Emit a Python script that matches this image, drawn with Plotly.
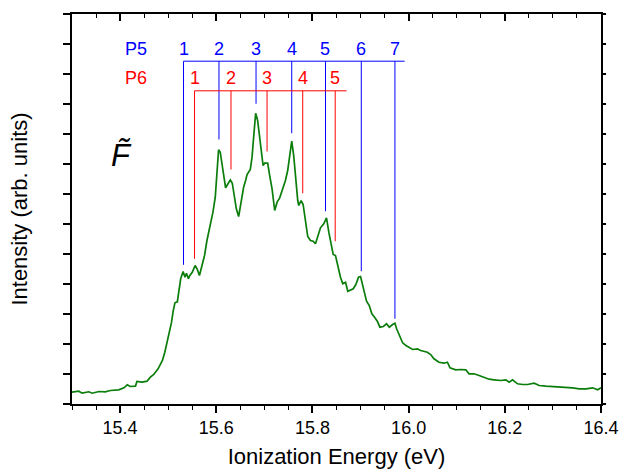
import plotly.graph_objects as go

# Spectrum (ionization energy in eV, intensity in arb. units)
energy = [15.300, 15.314, 15.321, 15.335, 15.342, 15.356, 15.369, 15.380, 15.397, 15.408,
          15.415, 15.421, 15.432, 15.435, 15.446, 15.456, 15.463, 15.470, 15.479, 15.488,
          15.493, 15.498, 15.503, 15.507, 15.510, 15.514, 15.519, 15.524, 15.526, 15.531,
          15.535, 15.538, 15.542, 15.545, 15.550, 15.556, 15.560, 15.565, 15.571, 15.5756,
          15.5806, 15.5875, 15.5931, 15.5979, 15.6015, 15.6048, 15.6083, 15.6119, 15.6152, 15.6194,
          15.6235, 15.6292, 15.6333, 15.6375, 15.6417, 15.6465, 15.6515, 15.6569, 15.6610, 15.6640,
          15.6708, 15.6744, 15.6777, 15.6819, 15.6860, 15.6902, 15.6938, 15.6973, 15.7006, 15.7069,
          15.7110, 15.7160, 15.7215, 15.7265, 15.7319, 15.7375, 15.7438, 15.7485, 15.7527, 15.7569,
          15.7610, 15.7652, 15.7694, 15.7715, 15.7765, 15.7806, 15.7854, 15.7902, 15.7958, 15.8015,
          15.8063, 15.8098, 15.8167, 15.8235, 15.8292, 15.8340, 15.8390, 15.8431, 15.8479, 15.8527,
          15.8583, 15.8631, 15.8688, 15.8735, 15.8792, 15.8848, 15.8902, 15.8958, 15.9000, 15.9042,
          15.9083, 15.9125, 15.9181, 15.9235, 15.9292, 15.9348, 15.9402, 15.9473, 15.9542, 15.9598,
          15.9667, 15.9715, 15.9750, 15.9806, 15.9875, 15.9944, 16.0015, 16.0083, 16.0181, 16.0250,
          16.0390, 16.0458, 16.0527, 16.0631, 16.0735, 16.0806, 16.0860, 16.0979, 16.1083, 16.1188,
          16.1256, 16.1360, 16.1465, 16.1569, 16.1673, 16.1777, 16.1917, 16.2021, 16.2090, 16.2160,
          16.2265, 16.2369, 16.2473, 16.2610, 16.2715, 16.2854, 16.2994, 16.3131, 16.3271, 16.3410,
          16.3548, 16.3688, 16.3827, 16.3931, 16.4000]
intensity = [0.393, 0.427, 0.360, 0.407, 0.360, 0.417, 0.407, 0.450, 0.473, 0.540,
             0.640, 0.583, 0.593, 0.750, 0.727, 0.760, 0.893, 0.983, 1.173, 1.450,
             1.727, 2.060, 2.393, 2.727, 3.060, 3.373, 3.407, 3.893, 4.173, 4.417,
             4.227, 4.360, 4.173, 4.283, 4.393, 4.617, 4.507, 4.283, 4.727, 4.950,
             5.450, 5.950, 6.393, 6.893, 7.673, 8.473, 8.393, 8.007, 7.560, 7.207,
             7.317, 7.473, 7.360, 6.893, 6.507, 6.250, 6.727, 7.227, 7.450, 7.650,
             7.817, 8.227, 8.893, 9.693, 9.450, 8.950, 8.507, 7.950, 8.027, 8.027,
             7.617, 7.173, 6.450, 6.727, 6.873, 7.117, 7.450, 7.783, 8.283, 8.760,
             8.283, 7.450, 6.783, 6.617, 6.783, 6.650, 6.173, 5.583, 5.450, 5.427,
             5.340, 5.507, 5.873, 6.007, 6.207, 5.727, 5.340, 4.983, 4.950, 4.560,
             4.227, 4.007, 4.060, 3.760, 3.807, 3.840, 3.983, 4.227, 4.250, 3.983,
             3.673, 3.427, 3.283, 3.007, 2.893, 2.760, 2.560, 2.583, 2.673, 2.560,
             2.650, 2.693, 2.507, 2.283, 2.040, 1.950, 1.873, 1.817, 1.840, 1.783,
             1.727, 1.650, 1.507, 1.393, 1.360, 1.393, 1.207, 1.140, 1.150, 1.140,
             1.007, 1.007, 0.950, 0.893, 0.827, 0.807, 0.783, 0.807, 0.727, 0.807,
             0.673, 0.650, 0.650, 0.693, 0.617, 0.593, 0.583, 0.560, 0.540, 0.540,
             0.507, 0.507, 0.540, 0.473, 0.540]

# Progression P5 (blue) and P6 (red)
p5_labels = ["1", "2", "3", "4", "5", "6", "7"]
p5_pos = [15.5319, 15.6056, 15.6827, 15.7569, 15.8271, 15.9015, 15.9715]
p5_bottom = [4.64, 8.817, 10.007, 9.027, 6.427, 4.427, 2.84]
p5_bar_level = 11.427
p5_bar_end = 15.9917
p5_label_level = 11.84

p6_labels = ["1", "2", "3", "4", "5"]
p6_pos = [15.5548, 15.6306, 15.7056, 15.7798, 15.8473]
p6_bottom = [4.84, 7.817, 8.417, 7.027, 5.427]
p6_bar_level = 10.44
p6_bar_end = 15.8708
p6_label_level = 10.873

series_label_x = 15.433

x_range = [15.3, 16.4]
y_range = [0, 13]
x_tickvals = [15.4, 15.6, 15.8, 16.0, 16.2, 16.4]
x_ticktext = ["15.4", "15.6", "15.8", "16.0", "16.2", "16.4"]

FONT = "Liberation Sans, Arial, sans-serif"


def comb(pos, bottom, level, end):
    xs, ys = [pos[0], end, None], [level, level, None]
    for p, b in zip(pos, bottom):
        xs += [p, p, None]
        ys += [level, b, None]
    return xs, ys


fig = go.Figure()
fig.add_trace(go.Scatter(x=energy, y=intensity, mode="lines",
                         line=dict(color="#0a7d0a", width=1.7), showlegend=False,
                         hoverinfo="skip"))

bx, by = comb(p5_pos, p5_bottom, p5_bar_level, p5_bar_end)
rx, ry = comb(p6_pos, p6_bottom, p6_bar_level, p6_bar_end)
fig.add_trace(go.Scatter(x=bx, y=by, mode="lines", line=dict(color="#0000ff", width=1),
                         showlegend=False, xaxis="x2", yaxis="y2", hoverinfo="skip"))
fig.add_trace(go.Scatter(x=rx, y=ry, mode="lines", line=dict(color="#ff0000", width=1),
                         showlegend=False, xaxis="x2", yaxis="y2", hoverinfo="skip"))

ann = []
for lab, p in zip(p5_labels, p5_pos):
    ann.append(dict(x=p, y=p5_label_level, text=lab, showarrow=False,
                    font=dict(color="#0000ff", size=18, family=FONT)))
for lab, p in zip(p6_labels, p6_pos):
    ann.append(dict(x=p, y=p6_label_level, text=lab, showarrow=False,
                    font=dict(color="#ff0000", size=18, family=FONT)))
ann.append(dict(x=series_label_x, y=p5_label_level, text="P5", showarrow=False,
                font=dict(color="#0000ff", size=18, family=FONT)))
ann.append(dict(x=series_label_x, y=p6_label_level, text="P6", showarrow=False,
                font=dict(color="#ff0000", size=18, family=FONT)))
ann.append(dict(x=15.402, y=8.3, text="<i>F\u0303</i>", showarrow=False,
                font=dict(color="black", size=31, family=FONT)))

axis_common = dict(showline=True, linecolor="black", linewidth=1.5, showgrid=False,
                   zeroline=False, tickcolor="black", tickwidth=1.5, automargin=False)

fig.update_layout(
    width=621, height=469,
    margin=dict(l=72, r=20, t=14, b=65),
    paper_bgcolor="white", plot_bgcolor="white",
    font=dict(family=FONT, color="black"),
    annotations=ann,
    xaxis=dict(range=x_range, ticks="outside", ticklen=7, tickvals=x_tickvals,
               ticktext=x_ticktext, tickfont=dict(size=18),
               minor=dict(dtick=0.05, tick0=15.3, ticks="outside", ticklen=4,
                          tickwidth=1.2, tickcolor="black"),
               title=dict(text="Ionization Energy (eV)", font=dict(size=22), standoff=12),
               **axis_common),
    yaxis=dict(range=y_range, ticks="outside", ticklen=7, dtick=1, tick0=0,
               showticklabels=False,
               title=dict(text="Intensity (arb. units)", font=dict(size=22), standoff=30),
               **axis_common),
    xaxis2=dict(range=x_range, overlaying="x", side="top", ticks="inside", ticklen=7,
                tickvals=x_tickvals, showticklabels=False,
                minor=dict(dtick=0.05, tick0=15.3, ticks="inside", ticklen=4,
                           tickwidth=1.2, tickcolor="black"),
                **axis_common),
    yaxis2=dict(range=y_range, overlaying="y", side="right", ticks="outside", ticklen=3,
                dtick=1, tick0=0, showticklabels=False, **axis_common),
)

fig.write_html("out.html")
